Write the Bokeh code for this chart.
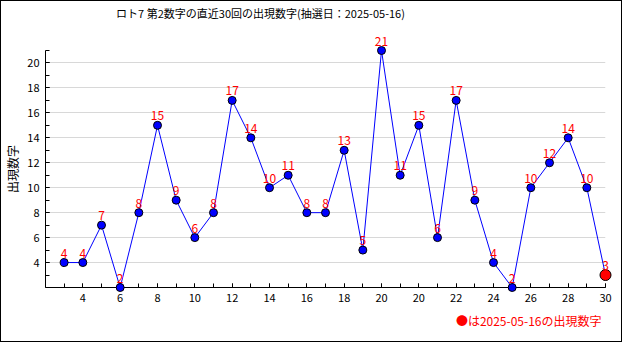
from bokeh.plotting import figure
from bokeh.models import Range1d, FixedTicker, ColumnDataSource
from bokeh.core.properties import value
from bokeh.embed import file_html
from bokeh.resources import INLINE

draws = list(range(1, 31))
numbers = [4, 4, 7, 2, 8, 15, 9, 6, 8, 17, 14, 10, 11, 8, 8, 13, 5, 21, 11, 15,
           6, 17, 9, 4, 2, 10, 12, 14, 10, 3]
x_tick_pos = list(range(2, 31, 2))
x_tick_labels = ["4", "6", "8", "10", "12", "14", "16", "18", "20", "20",
                 "22", "24", "26", "28", "30"]
y_ticks = list(range(4, 21, 2))
title_text = "ロト7 第2数字の直近30回の出現数字(抽選日：2025-05-16)"
note_text = "●は2025-05-16の出現数字"
y_label = "出現数字"

FONT = "Noto Sans CJK JP"
X0, X1, Y0, Y1 = 0, 30, 2, 21

p = figure(width=622, height=342, output_backend="svg", toolbar_location=None,
           x_range=Range1d(X0, X1), y_range=Range1d(Y0, Y1),
           min_border_left=38, min_border_right=18, min_border_top=49,
           min_border_bottom=56)
p.styles = {"border": "1px solid black"}
p.outline_line_color = None
p.background_fill_color = "white"
p.border_fill_color = "white"

p.xaxis.ticker = FixedTicker(ticks=x_tick_pos, minor_ticks=draws)
p.xaxis.major_label_overrides = {t: l for t, l in zip(x_tick_pos, x_tick_labels)}
p.yaxis.ticker = FixedTicker(ticks=y_ticks, minor_ticks=list(range(2, 22)))
for ax in (p.xaxis, p.yaxis):
    ax.axis_line_color = "black"
    ax.major_tick_line_color = "black"
    ax.minor_tick_line_color = "black"
    ax.major_tick_in = 4
    ax.major_tick_out = 0
    ax.minor_tick_in = 4
    ax.minor_tick_out = 0
    ax.major_label_text_font = FONT
    ax.major_label_text_font_size = "11px"
    ax.major_label_text_color = "black"
p.xaxis.major_label_standoff = 6
p.yaxis.major_label_standoff = 6
p.yaxis.axis_label = y_label
p.yaxis.axis_label_text_font = FONT
p.yaxis.axis_label_text_font_size = "12px"
p.yaxis.axis_label_text_font_style = "normal"
p.yaxis.axis_label_text_color = "black"
p.yaxis.axis_label_standoff = 3

p.xgrid.visible = False
p.ygrid.grid_line_color = "#d8d8d8"
p.ygrid.grid_line_width = 1

src = ColumnDataSource(dict(x=draws[:-1], y=numbers[:-1], t=[str(v) for v in numbers[:-1]]))
last = ColumnDataSource(dict(x=draws[-1:], y=numbers[-1:], t=[str(v) for v in numbers[-1:]]))

p.line(draws, numbers, line_color="blue", line_width=1, level="overlay")
p.scatter("x", "y", source=src, size=8, fill_color="blue", line_color="black",
          line_width=1, level="overlay")
p.scatter("x", "y", source=last, size=11, fill_color="red", line_color="black",
          line_width=1, level="overlay")
for s in (src, last):
    p.text("x", "y", text="t", source=s, text_color="red", text_align="center",
           text_baseline="bottom", y_offset=-5, text_font=value(FONT),
           text_font_size="12px", level="overlay")

# title anchored at the frame's top-left corner, offset in screen pixels
p.text(x=[X0], y=[Y1], text=[title_text], x_offset=215, y_offset=-38,
       text_align="center", text_baseline="middle", text_font=value(FONT),
       text_font_size="11px", text_color="black", level="overlay")
# note anchored at the frame's bottom-right corner
p.text(x=[X1], y=[Y0], text=[note_text], x_offset=-4, y_offset=33,
       text_align="right", text_baseline="middle", text_font=value(FONT),
       text_font_size="12px", text_color="red", level="overlay")

open("out.html", "w").write(file_html(p, INLINE))
